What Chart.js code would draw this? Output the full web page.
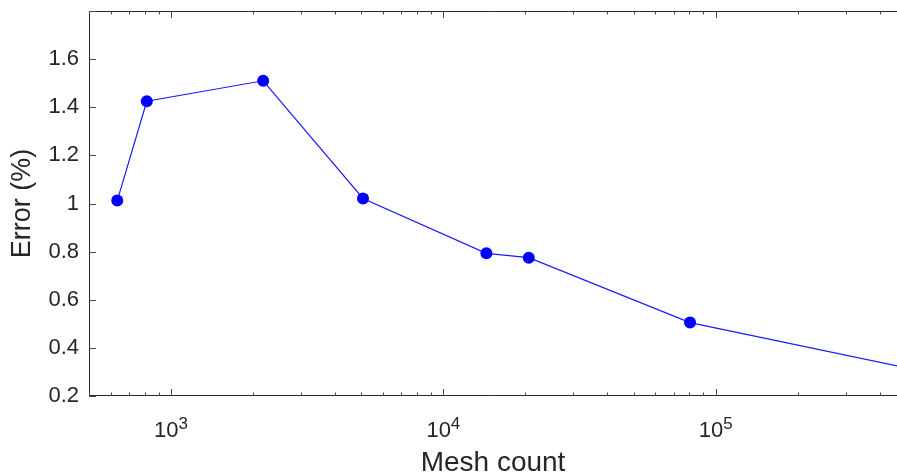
<!DOCTYPE html>
<html>
<head>
<meta charset="utf-8">
<script src="https://cdn.jsdelivr.net/npm/chart.js@4.4.0/dist/chart.umd.min.js"></script>
<style>
    html, body { margin: 0; padding: 0; background: #ffffff; overflow: hidden; }
    canvas { display: block; }
</style>
</head>
<body>
<canvas id="myChart" width="897" height="472"></canvas>
<script>
// 데이터
const meshCount = [635, 815, 2180, 5070, 14390, 20590, 80500, 500000];
const errorPct = [1.012, 1.425, 1.510, 1.021, 0.793, 0.775, 0.505, 0.317];
const xMajorTicks = [1e3, 1e4, 1e5];
const yTicks = [0.2, 0.4, 0.6, 0.8, 1.0, 1.2, 1.4, 1.6, 1.8];
const yHiddenLabels = [1.8];

const axisColor = '#262626';
const fontFamily = '"Liberation Sans", Arial, Helvetica, sans-serif';

// 축 테두리, 안쪽 눈금, 10^n 라벨을 그리는 플러그인
const axesBox = {
    id: 'axesBox',
    afterDraw(chart) {
        const { ctx, chartArea: a, scales: { x, y } } = chart;
        ctx.save();
        ctx.strokeStyle = axisColor;
        ctx.lineWidth = 1;

        // 테두리 (왼쪽, 위, 아래)
        ctx.beginPath();
        ctx.moveTo(a.right, a.top + 0.5);
        ctx.lineTo(a.left + 0.5, a.top + 0.5);
        ctx.lineTo(a.left + 0.5, a.bottom - 0.5);
        ctx.lineTo(a.right, a.bottom - 0.5);
        ctx.stroke();

        // y 눈금
        ctx.strokeStyle = '#4a4a4a';
        ctx.beginPath();
        yTicks.forEach(v => {
            const py = Math.round(y.getPixelForValue(v)) + 0.5;
            ctx.moveTo(a.left, py);
            ctx.lineTo(a.left + 7, py);
        });

        // x 눈금 (주/보조)
        const lo = Math.floor(Math.log10(x.min));
        const hi = Math.ceil(Math.log10(x.max));
        for (let d = lo; d <= hi; d++) {
            for (let m = 1; m <= 9; m++) {
                const v = m * Math.pow(10, d);
                if (v < x.min || v > x.max) continue;
                const px = Math.round(x.getPixelForValue(v)) + 0.5;
                const len = m === 1 ? 7 : 3.5;
                ctx.moveTo(px, a.bottom);
                ctx.lineTo(px, a.bottom - len);
                ctx.moveTo(px, a.top);
                ctx.lineTo(px, a.top + len);
            }
        }
        ctx.stroke();

        // x 라벨: 10 + 위첨자 지수
        ctx.fillStyle = axisColor;
        ctx.textBaseline = 'alphabetic';
        xMajorTicks.forEach(v => {
            const px = x.getPixelForValue(v);
            const base = '10';
            const exp = String(Math.round(Math.log10(v)));
            ctx.font = '22px ' + fontFamily;
            const w1 = ctx.measureText(base).width;
            ctx.font = '17px ' + fontFamily;
            const w2 = ctx.measureText(exp).width;
            const start = px - (w1 + w2) / 2;
            ctx.font = '22px ' + fontFamily;
            ctx.fillText(base, start, 437);
            ctx.font = '17px ' + fontFamily;
            ctx.fillText(exp, start + w1, 429);
        });
        ctx.restore();
    }
};

const ctx = document.getElementById('myChart').getContext('2d');

const data = {
    datasets: [{
        label: 'Error',
        data: meshCount.map((m, i) => ({ x: m, y: errorPct[i] })),
        borderColor: '#1a1aff',
        borderWidth: 1.2,
        backgroundColor: '#0000ff',
        pointBackgroundColor: '#0000ff',
        pointBorderWidth: 0,
        pointRadius: 6,
        pointHoverRadius: 6,
        tension: 0,
        fill: false
    }]
};

const config = {
    type: 'line',
    data: data,
    options: {
        responsive: false,
        animation: false,
        layout: { autoPadding: false, padding: { top: 11, right: 0, bottom: 0, left: 0 } },
        scales: {
            x: {
                type: 'logarithmic',
                min: 500,
                max: 463000,
                grid: { display: false, drawTicks: false },
                border: { display: false },
                ticks: { display: false },
                afterBuildTicks: (scale) => {
                    scale.ticks = xMajorTicks.map(v => ({ value: v, major: true }));
                },
                afterFit: (scale) => {
                    scale.height = 76;
                    scale.paddingLeft = 0;
                    scale.paddingRight = 0;
                },
                title: {
                    display: true,
                    text: 'Mesh count',
                    color: axisColor,
                    font: { family: fontFamily, size: 28 },
                    padding: { top: 0, bottom: -8 }
                }
            },
            y: {
                min: 0.2,
                max: 1.8,
                grid: { display: false, drawTicks: false },
                border: { display: false },
                afterBuildTicks: (scale) => {
                    scale.ticks = yTicks.map(v => ({ value: v }));
                },
                ticks: {
                    color: axisColor,
                    padding: 10,
                    font: { family: fontFamily, size: 22 },
                    callback: (value) => {
                        const v = Number(value.toFixed(1));
                        return yHiddenLabels.includes(v) ? '' : String(v);
                    }
                },
                afterFit: (scale) => {
                    scale.width = 89;
                    scale.paddingTop = 0;
                    scale.paddingBottom = 0;
                },
                title: {
                    display: true,
                    text: 'Error (%)',
                    color: axisColor,
                    font: { family: fontFamily, size: 27 },
                    padding: { top: 6, bottom: 0 }
                }
            }
        },
        plugins: {
            legend: { display: false },
            tooltip: { enabled: false }
        }
    },
    plugins: [axesBox]
};

const myChart = new Chart(ctx, config);
</script>
</body>
</html>
